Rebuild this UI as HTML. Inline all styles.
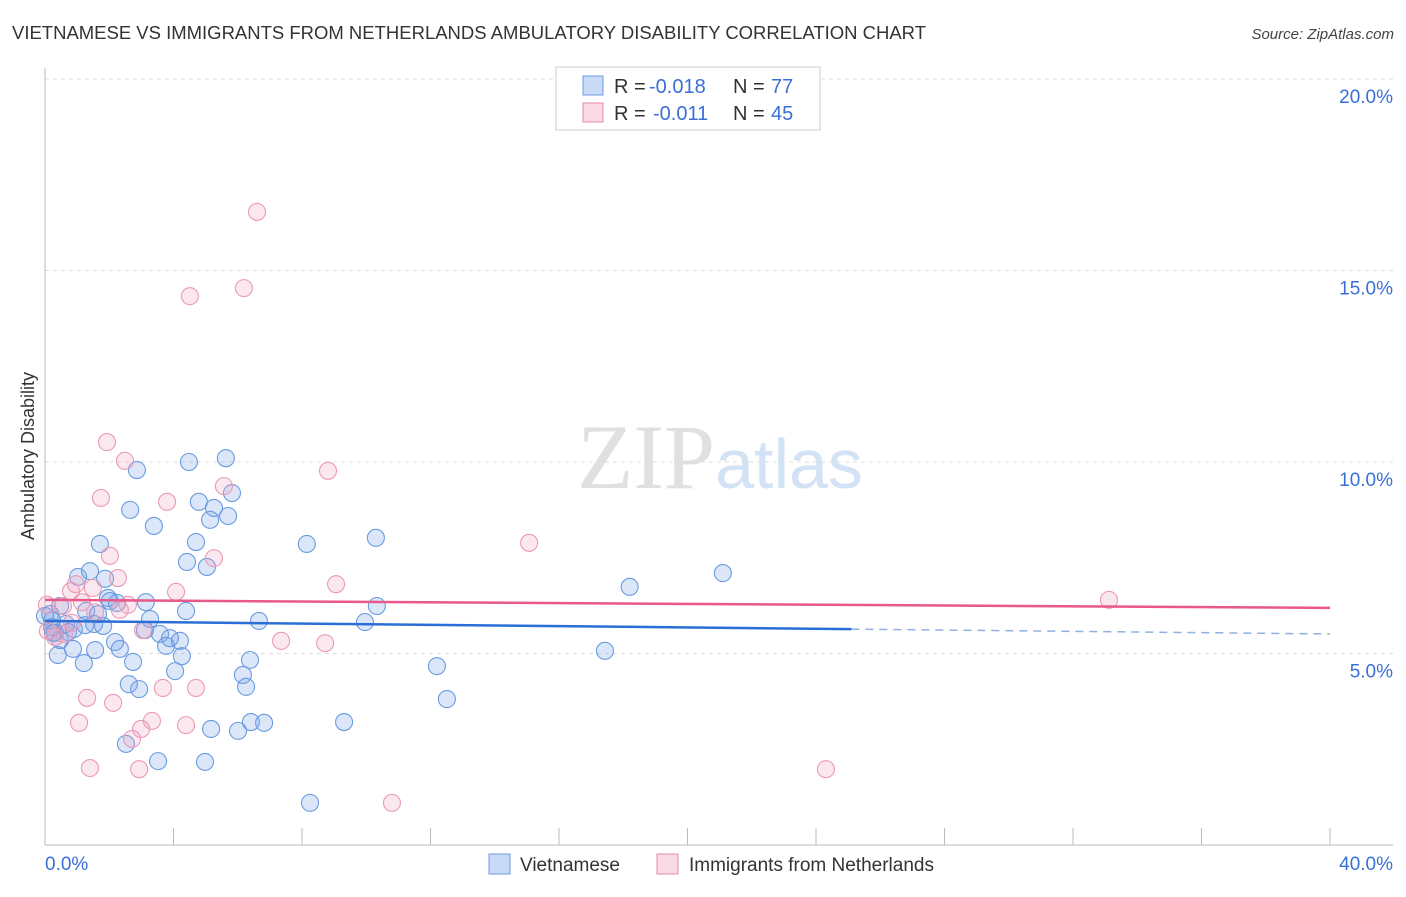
<!DOCTYPE html>
<html><head><meta charset="utf-8"><style>
body{margin:0;background:#fff;font-family:"Liberation Sans",sans-serif}
svg text{font-family:"Liberation Sans",sans-serif}
</style></head><body>
<svg id="chart" width="1406" height="892" xmlns="http://www.w3.org/2000/svg">
<text x="12" y="39" font-size="18" fill="#333" textLength="914" lengthAdjust="spacingAndGlyphs">VIETNAMESE VS IMMIGRANTS FROM NETHERLANDS AMBULATORY DISABILITY CORRELATION CHART</text>
<text x="1394" y="39" font-size="15" fill="#444" text-anchor="end" font-style="italic">Source: ZipAtlas.com</text>
<text x="720" y="488" font-size="92" text-anchor="middle"><tspan fill="#e0e0e0" font-family="Liberation Serif">ZIP</tspan><tspan fill="#d3e2f4" font-size="70">atlas</tspan></text>
<g id="grid"></g><g id="axes"></g><g id="pts"></g><g id="lines"></g>
<text transform="translate(34,456) rotate(-90)" font-size="18" fill="#333" text-anchor="middle">Ambulatory Disability</text>
<g>
<rect x="556" y="67" width="264" height="63" fill="#fff" stroke="#ccc"/>
<rect x="583" y="76" width="20" height="19" fill="rgba(100,150,230,0.35)" stroke="#6a9be0"/>
<rect x="583" y="103" width="20" height="19" fill="rgba(240,150,180,0.35)" stroke="#e88aa8"/>
<text x="614" y="93" font-size="20" fill="#333">R =</text>
<text x="649" y="93" font-size="20" fill="#3a6fd8">-0.018</text>
<text x="733" y="93" font-size="20" fill="#333">N =</text>
<text x="771" y="93" font-size="20" fill="#3a6fd8">77</text>
<text x="614" y="120" font-size="20" fill="#333">R =</text>
<text x="653" y="120" font-size="20" fill="#3a6fd8">-0.011</text>
<text x="733" y="120" font-size="20" fill="#333">N =</text>
<text x="771" y="120" font-size="20" fill="#3a6fd8">45</text>
</g>
<g>
<rect x="489" y="854" width="21" height="20" fill="rgba(100,150,230,0.35)" stroke="#6a9be0"/>
<text x="520" y="871" font-size="19" fill="#333">Vietnamese</text>
<rect x="657" y="854" width="21" height="20" fill="rgba(240,150,180,0.35)" stroke="#e88aa8"/>
<text x="689" y="871" font-size="19" fill="#333">Immigrants from Netherlands</text>
</g>
</svg>
<script>
const blueX=[2.86,4.48,5.63,2.65,3.39,4.79,5.26,5.82,5.70,5.14,1.71,4.70,4.42,5.04,8.15,10.3,1.40,1.03,1.87,18.2,21.1,2.02,2.24,3.14,4.39,10.33,0.47,1.28,1.65,3.27,6.66,9.96,1.53,0.65,0.22,0.31,0.72,1.81,3.11,3.58,3.89,4.20,3.77,2.18,0.87,0.40,2.33,1.56,4.26,2.74,1.21,17.43,12.2,6.38,6.16,4.05,2.61,2.93,6.26,12.51,5.17,6.41,6.82,9.31,6.01,2.52,3.52,4.98,8.25,0.16,0.22,0.47,1.96,0.25,0.90,1.25,0.0];
const blueY=[9.79,10.0,10.1,8.75,8.33,8.96,8.80,9.19,8.59,8.49,7.86,7.91,7.39,7.26,7.86,8.02,7.15,7.00,6.95,6.74,7.10,6.37,6.32,6.34,6.11,6.24,6.24,6.11,6.03,5.90,5.85,5.82,5.77,5.77,5.69,5.54,5.56,5.72,5.61,5.51,5.40,5.33,5.20,5.30,5.12,4.96,5.12,5.09,4.93,4.78,4.75,5.07,4.67,4.83,4.44,4.54,4.20,4.07,4.13,3.81,3.03,3.21,3.19,3.21,2.98,2.64,2.19,2.17,1.10,6.03,5.87,5.35,6.45,5.54,5.64,5.74,5.98];
const pinkX=[6.60,4.51,6.19,1.93,2.49,8.81,1.74,3.80,5.57,2.02,5.26,15.07,2.27,0.96,0.81,1.49,9.06,4.08,33.12,2.58,0.56,0.06,1.15,1.56,2.33,3.05,7.35,8.72,0.84,0.31,0.09,0.59,3.67,4.70,1.31,2.12,1.06,3.33,4.39,2.99,2.71,1.40,2.93,24.31,10.80];
const pinkY=[16.53,14.33,14.54,10.52,10.03,9.77,9.06,8.96,9.37,7.55,7.49,7.89,6.97,6.81,6.63,6.71,6.81,6.61,6.40,6.27,6.24,6.27,6.34,6.08,6.14,5.61,5.33,5.27,5.80,5.43,5.59,5.51,4.10,4.10,3.84,3.71,3.19,3.24,3.13,3.03,2.77,2.01,1.98,1.98,1.10];
const blueTrend=[5.85,5.51]; const blueSolidEnd=25.1;
const pinkTrend=[6.40,6.19];
const yTicks=[5,10,15,20];
const xTickLabels=["0.0%","40.0%"];
const NS="http://www.w3.org/2000/svg";
const X=v=>45+v/40*1285, Y=v=>845-v/5*191.5;
function el(p,t,a){const e=document.createElementNS(NS,t);for(const k in a)e.setAttribute(k,a[k]);document.getElementById(p).appendChild(e);return e;}
yTicks.forEach(t=>{
 const g=el('grid','line',{x1:45,x2:1393,y1:Y(t),y2:Y(t),stroke:'#ddd','stroke-dasharray':'4,4'});
 
 
 const tx=el('grid','text',{x:1393,y:Y(t)+24,'font-size':19,fill:'#3a6fd8','text-anchor':'end'});tx.textContent=t.toFixed(1)+'%';
 
 
});
let a=el('axes','line',{x1:45,x2:45,y1:68,y2:845,stroke:'#bbb'});


a=el('axes','line',{x1:45,x2:1393,y1:845,y2:845,stroke:'#bbb'});


for(let i=0;i<=10;i++){const t=el('axes','line',{x1:X(i*4),x2:X(i*4),y1:828,y2:845,stroke:'#bbb'});
 
 }
[[0,'start',45],[40,'end',1393]].forEach((d,i)=>{const t=el('axes','text',{x:d[2],y:870,'font-size':19,fill:'#3a6fd8','text-anchor':d[1]});t.textContent=xTickLabels[i];
 
 });
blueX.forEach((x,i)=>{const c=el('pts','circle',{cx:X(x),cy:Y(blueY[i]),r:8.5,fill:'rgba(110,160,230,0.25)',stroke:'#6a9be0','stroke-width':1.1});
 
 });
pinkX.forEach((x,i)=>{const c=el('pts','circle',{cx:X(x),cy:Y(pinkY[i]),r:8.5,fill:'rgba(240,160,190,0.25)',stroke:'#eb9ab4','stroke-width':1.1});
 
 });
const by=x=>blueTrend[0]+(blueTrend[1]-blueTrend[0])*x/40;
let l=el('lines','line',{x1:X(0),y1:Y(by(0)),x2:X(blueSolidEnd),y2:Y(by(blueSolidEnd)),stroke:'#2b6fd6','stroke-width':2.5});


l=el('lines','line',{x1:X(blueSolidEnd),y1:Y(by(blueSolidEnd)),x2:X(40),y2:Y(by(40)),stroke:'#8fb0e0','stroke-width':1.5,'stroke-dasharray':'8,6'});


l=el('lines','line',{x1:X(0),y1:Y(pinkTrend[0]),x2:X(40),y2:Y(pinkTrend[1]),stroke:'#e8588a','stroke-width':2.5});


</script>
</body></html>
